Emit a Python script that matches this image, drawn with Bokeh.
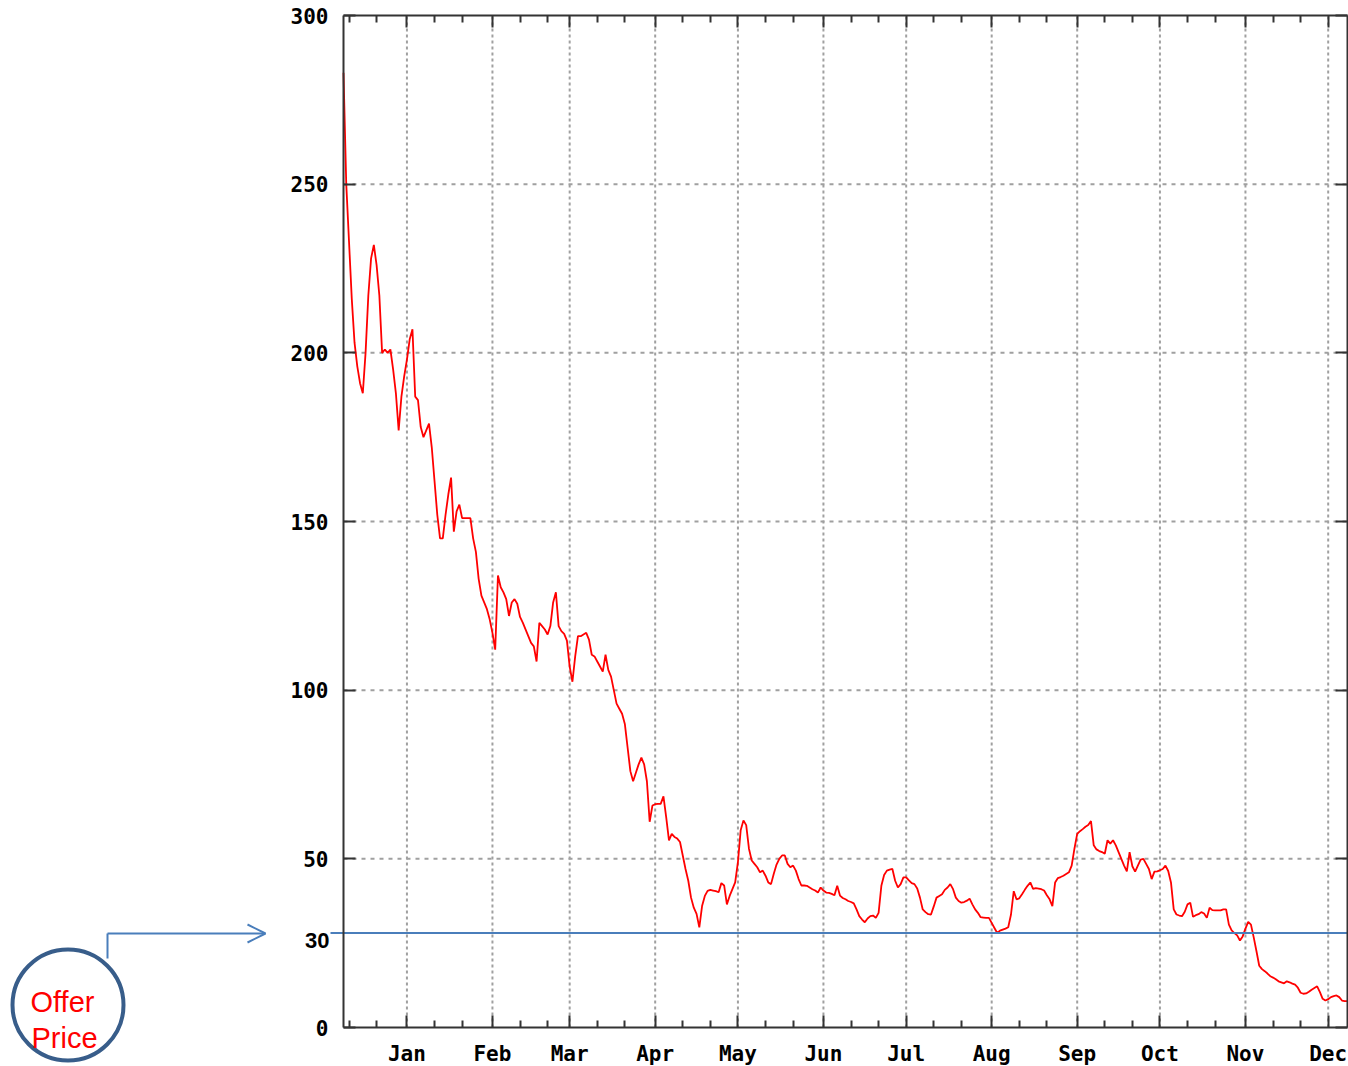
import pandas as pd
from bokeh.plotting import figure
from bokeh.models import (Range1d, FixedTicker, DatetimeTickFormatter, DatetimeAxis, LinearAxis,
                          Label, Arrow, OpenHead, ColumnDataSource)
from bokeh.embed import file_html
from bokeh.resources import INLINE

# ---------------- data ----------------
start_date = "2010-12-09"
end_date = "2011-12-08"
prices = [
    283, 250, 233, 216, 203, 196, 191, 188, 200, 217,
    228, 232, 226, 217, 200, 201, 200, 201, 195, 188,
    177, 187, 193, 198, 204, 207, 187, 186, 178, 175,
    177, 179, 172, 162, 152, 145, 145, 152, 158, 163,
    147, 153, 155, 151, 151, 151, 151, 145, 141, 133,
    128, 126, 124, 121, 117, 112, 134, 130.5, 129, 127,
    122, 126, 127, 125.6, 121.7, 120, 118, 116, 114, 113,
    108.5, 120, 119, 118, 116.5, 119, 126, 129, 119, 117.5,
    116.7, 114.7, 107, 102.5, 110, 116, 116, 116.5, 117, 115,
    110.5, 110, 108.5, 107, 105.5, 110.5, 106, 104, 100, 96,
    94.5, 93, 90, 83, 76, 73, 75.5, 78, 80, 78,
    73, 61, 65.8, 66.2, 66.3, 66.3, 68.5, 62.3, 55.5, 57.4,
    56.5, 56, 55, 51, 47, 43.5, 38.5, 35.5, 33.7, 29.7,
    36, 39, 40.5, 40.8, 40.6, 40.4, 40.1, 42.8, 42.1, 36.5,
    39, 41, 43, 49, 58.5, 61.4, 60, 53, 49.5, 48.5,
    47.5, 46, 46.5, 45, 43, 42.5, 45.6, 48.3, 50, 51,
    51, 48.5, 47.5, 48, 46.5, 44, 42.1, 42.1, 42, 41.5,
    41, 40.6, 40, 41.5, 40.6, 40, 39.9, 39.6, 39.2, 42,
    39.1, 38.4, 38, 37.5, 37.2, 36.8, 35, 33, 32, 31.2,
    32.3, 33, 33.2, 32.5, 34, 42, 45.2, 46.5, 46.8, 47,
    43.5, 41.5, 42.5, 44.5, 44.5, 43.6, 42.8, 42.5, 41.2, 38.5,
    35, 34.2, 33.6, 33.5, 35.9, 38.5, 39, 39.5, 40.8, 41.5,
    42.5, 41, 38.5, 37.5, 37, 37.2, 37.6, 38.2, 36.5, 35,
    34, 32.7, 32.6, 32.5, 32.5, 31, 29.5, 28, 28.7, 29,
    29.3, 29.7, 33.5, 40.4, 38, 38.3, 39.5, 40.8, 42, 43,
    41.1, 41.3, 41.2, 41, 40.6, 39.2, 38, 36, 43, 44.3,
    44.6, 45, 45.5, 46, 48, 53, 57.4, 58.2, 58.8, 59.5,
    60, 61.2, 54, 52.8, 52.3, 52, 51.5, 55.5, 54.5, 55.5,
    54, 52, 50, 48, 46.3, 52, 47.8, 46.2, 48, 49.8,
    50, 48.5, 47, 44, 46.2, 46.3, 46.6, 47, 48, 46.4,
    43, 35, 33.5, 33.2, 33, 34.3, 36.5, 37, 32.8, 33.3,
    33.6, 34.2, 33.8, 32.5, 35.5, 34.8, 34.7, 34.7, 34.7, 35,
    35, 30.5, 28.8, 28, 27.3, 25.8, 27, 29.3, 31.3, 30.5,
    26.7, 22.6, 18.3, 17.3, 16.7, 16, 15.2, 14.8, 14.3, 13.7,
    13.4, 13.1, 13.7, 13.4, 13, 12.7, 11.8, 10.3, 10, 10.1,
    10.6, 11.2, 11.7, 12.2, 10.5, 8.5, 8, 8.4, 9, 9.3,
    9.5, 9, 8, 7.8, 7.8,
]
y_ticks = [0, 50, 100, 150, 200, 250, 300]
month_starts = ["2011-01-01", "2011-02-01", "2011-03-01", "2011-04-01", "2011-05-01", "2011-06-01",
                "2011-07-01", "2011-08-01", "2011-09-01", "2011-10-01", "2011-11-01", "2011-12-01"]
minor_days = [11, 21]
y_min, y_max = 0, 300
offer_level = 28
offer_text = "30"
callout_lines = ["Offer", "Price"]

# ---------------- layout constants (pixels) ----------------
W, H = 1348, 1066
L, R, T, B = 343, 1347, 15, 1027      # chart area inside the canvas
FRAME = "#333333"
GRID = "#a0a0a0"
TICK_FONT = "DejaVu Sans Mono"
BLUE = "#4A7EBB"

def ms(s):
    return pd.Timestamp(s).value / 1e6

dates = pd.date_range(start_date, periods=len(prices), freq="D")
src = ColumnDataSource(data=dict(date=dates, price=prices))

x0, x1 = ms(start_date), ms(end_date)
major_ms = [ms(m) for m in month_starts]
minor_ms = []
for m in ["2010-12-01"] + month_starts:
    for d in minor_days:
        t = ms(pd.Timestamp(m) + pd.Timedelta(days=d - 1))
        if x0 <= t <= x1:
            minor_ms.append(t)

mpp = (x1 - x0) / (R - L)          # ms per pixel
vpp = (y_max - y_min) / (B - T)    # value per pixel

p = figure(width=W, height=H, x_axis_type="datetime", title=None,
           x_range=Range1d(x0 - L * mpp, x1 + (W - R) * mpp),
           y_range=Range1d(y_min - (H - B) * vpp, y_max + T * vpp),
           output_backend="svg", toolbar_location=None, min_border=0,
           min_border_left=0, min_border_right=0, min_border_top=0, min_border_bottom=0,
           background_fill_color="white", border_fill_color="white")
p.outline_line_color = None
p.grid.visible = False
p.extra_x_ranges = {"px": Range1d(0, W)}
p.extra_y_ranges = {"px": Range1d(H, 0)}

xt = FixedTicker(ticks=major_ms, minor_ticks=minor_ms)
yt = FixedTicker(ticks=y_ticks, minor_ticks=[])
fmt = DatetimeTickFormatter(microseconds="%b", milliseconds="%b", seconds="%b", minsec="%b",
                            minutes="%b", hourmin="%b", hours="%b", days="%b", months="%b", years="%b")

def style_axis(ax, show_labels, standoff):
    ax.axis_line_color = FRAME
    ax.axis_line_width = 2
    ax.major_tick_in = 12
    ax.major_tick_out = 0
    ax.minor_tick_in = 7
    ax.minor_tick_out = 0
    ax.major_tick_line_color = FRAME
    ax.major_tick_line_width = 2
    ax.minor_tick_line_color = FRAME
    ax.minor_tick_line_width = 2
    ax.major_label_standoff = standoff
    ax.major_label_text_font = TICK_FONT
    ax.major_label_text_font_style = "bold"
    ax.major_label_text_font_size = "21px"
    ax.major_label_text_color = "black" if show_labels else None

# grid lines (dashed) drawn inside the chart area only
p.segment(x0=major_ms, y0=y_min, x1=major_ms, y1=y_max, line_color=GRID, line_width=2, line_dash="3 3")
p.segment(x0=x0, y0=y_ticks[1:-1], x1=x1, y1=y_ticks[1:-1], line_color=GRID, line_width=2, line_dash="4 5")

# price line
p.line(x="date", y="price", source=src, line_color="#ff0000", line_width=1.8)

# axes drawn at the chart edges
bx = p.xaxis[0]
bx.ticker = xt
bx.formatter = fmt
bx.fixed_location = y_min
bx.bounds = (x0, x1)
style_axis(bx, True, 14)

ly = p.yaxis[0]
ly.ticker = yt
ly.fixed_location = x0
ly.bounds = (y_min, y_max)
style_axis(ly, True, 15)

tx = DatetimeAxis(ticker=xt, formatter=fmt, fixed_location=y_max, bounds=(x0, x1))
style_axis(tx, False, 0)
p.add_layout(tx, "above")

ry = LinearAxis(ticker=yt, fixed_location=x1, bounds=(y_min, y_max))
style_axis(ry, False, 0)
p.add_layout(ry, "right")

# offer price line and its label
p.segment(x0=[330], y0=[offer_level], x1=[W], y1=[offer_level], x_range_name="px",
          line_color=BLUE, line_width=2)
p.add_layout(Label(x=329, y=940, x_range_name="px", y_range_name="px", text=offer_text,
                   text_align="right", text_baseline="middle", text_font="Liberation Sans",
                   text_font_style="bold", text_font_size="22px", text_color="black"))

# callout
p.scatter(x=[67.5], y=[1004.5], x_range_name="px", y_range_name="px", size=111, marker="circle",
          fill_color=None, line_color="#385D8A", line_width=4)
p.line(x=[107, 107], y=[958, 933], x_range_name="px", y_range_name="px", line_color=BLUE, line_width=2)
p.add_layout(Arrow(end=OpenHead(size=18, line_color=BLUE, line_width=2),
                   x_start=107, y_start=933, x_end=265, y_end=933,
                   x_range_name="px", y_range_name="px", line_color=BLUE, line_width=2))
p.add_layout(Label(x=30, y=1001.5, x_range_name="px", y_range_name="px", text=callout_lines[0],
                   text_align="left", text_baseline="alphabetic",
                   text_font="Liberation Sans", text_font_size="29px", text_color="#ff0000"))
p.add_layout(Label(x=31, y=1037, x_range_name="px", y_range_name="px", text=callout_lines[1],
                   text_align="left", text_baseline="alphabetic",
                   text_font="Liberation Sans", text_font_size="29px", text_color="#ff0000"))

open("out.html", "w").write(file_html(p, INLINE))
